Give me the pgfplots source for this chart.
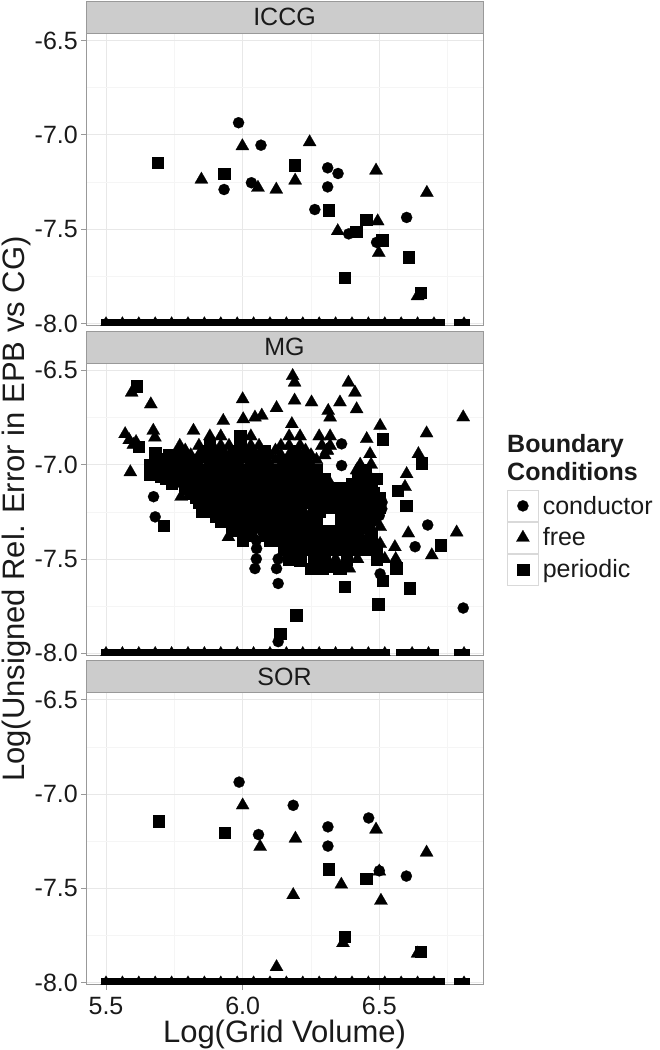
\documentclass[border=0pt]{standalone}
\usepackage{pgfplots}
\usepackage{pgfplotstable}
\pgfplotsset{compat=1.18}
\usepackage{fontspec}
\setmainfont{Liberation Sans}
\definecolor{stripfill}{HTML}{CCCCCC}
\definecolor{frame}{HTML}{999999}
\definecolor{txt}{HTML}{1A1A1A}
\newcommand{\fs}[1]{\fontsize{#1}{#1}\selectfont}
% points sitting on the floor value -8 (ICCG and SOR)
\pgfplotstableread[row sep=\\]{x y\\5.50 -8\\5.52 -8\\5.54 -8\\5.56 -8\\5.58 -8\\5.60 -8\\5.62 -8\\5.64 -8\\5.66 -8\\5.68 -8\\5.70 -8\\5.72 -8\\5.74 -8\\5.76 -8\\5.78 -8\\5.80 -8\\5.82 -8\\5.84 -8\\5.86 -8\\5.88 -8\\5.90 -8\\5.92 -8\\5.94 -8\\5.96 -8\\5.98 -8\\6.00 -8\\6.02 -8\\6.04 -8\\6.06 -8\\6.08 -8\\6.10 -8\\6.12 -8\\6.14 -8\\6.16 -8\\6.18 -8\\6.20 -8\\6.22 -8\\6.24 -8\\6.26 -8\\6.28 -8\\6.30 -8\\6.32 -8\\6.34 -8\\6.36 -8\\6.38 -8\\6.40 -8\\6.42 -8\\6.44 -8\\6.46 -8\\6.48 -8\\6.50 -8\\6.52 -8\\6.54 -8\\6.56 -8\\6.58 -8\\6.60 -8\\6.62 -8\\6.64 -8\\6.66 -8\\6.68 -8\\6.70 -8\\6.72 -8\\6.79 -8\\6.81 -8\\}\floorA
% points sitting on the floor value -8 (MG)
\pgfplotstableread[row sep=\\]{x y\\5.50 -8\\5.52 -8\\5.54 -8\\5.56 -8\\5.58 -8\\5.60 -8\\5.62 -8\\5.64 -8\\5.66 -8\\5.68 -8\\5.70 -8\\5.72 -8\\5.74 -8\\5.76 -8\\5.78 -8\\5.80 -8\\5.82 -8\\5.84 -8\\5.86 -8\\5.88 -8\\5.90 -8\\5.92 -8\\5.94 -8\\5.96 -8\\5.98 -8\\6.00 -8\\6.02 -8\\6.04 -8\\6.06 -8\\6.08 -8\\6.10 -8\\6.12 -8\\6.14 -8\\6.16 -8\\6.18 -8\\6.20 -8\\6.22 -8\\6.24 -8\\6.26 -8\\6.28 -8\\6.30 -8\\6.32 -8\\6.34 -8\\6.36 -8\\6.38 -8\\6.40 -8\\6.42 -8\\6.44 -8\\6.46 -8\\6.48 -8\\6.50 -8\\6.52 -8\\6.58 -8\\6.60 -8\\6.62 -8\\6.64 -8\\6.66 -8\\6.68 -8\\6.70 -8\\6.79 -8\\6.81 -8\\}\floorB
\pgfplotsset{
  facet/.style={
    scale only axis, width=397pt, height=292pt,
    xmin=5.4268, xmax=6.8794, ymin=-8.01, ymax=-6.4626,
    clip marker paths=true,
    axis line style={frame, line width=0.9pt},
    xtick={5.5,6,6.5}, minor xtick={5.75,6.25,6.75},
    xticklabels={5.5,6.0,6.5},
    ytick={-8,-7.5,-7,-6.5}, minor ytick={-7.75,-7.25,-6.75},
    yticklabels={-8.0,-7.5,-7.0,-6.5},
    grid=both,
    major grid style={draw=black!9, line width=0.6pt},
    minor grid style={draw=black!4, line width=0.5pt},
    tick align=outside, xtick pos=bottom, ytick pos=left,
    major tick length=5pt, minor tick length=0pt,
    tick style={frame, line width=0.9pt},
    ticklabel style={font=\fs{25}, text=txt},
    yticklabel style={inner xsep=3pt},
    xticklabel style={inner ysep=7pt},
    anchor=south west,
  },
  keybox/.style={legend image code/.code={%
      \draw[draw=black!15, fill=white, line width=0.8pt] (0pt,-15.5pt) rectangle (31pt,15.5pt);
      \draw[only marks] plot coordinates {(15.5pt,0pt)};}},
  mk/.style={mark options={fill=black, draw=black, line width=0.2pt}},
  cond/.style={only marks, mark=*, mark size=5.6pt, mk, keybox},
  free/.style={only marks, mark=triangle*, mark size=7.6pt, mk, keybox},
  peri/.style={only marks, mark=square*, mark size=5.7pt, mk, keybox},
  floorsq/.style={only marks, mark=square*, mark size=4.6pt, mk, forget plot},
  floortri/.style={only marks, mark=triangle*, mark size=7pt, mk, forget plot, each nth point=3},
}
\begin{document}
\begin{tikzpicture}
\useasboundingbox (0,0) rectangle (659pt,1050pt);

% ---------------- ICCG ----------------
\begin{axis}[facet, name=iccg, at={(86pt,724.6pt)}, xmajorticks=false]
\addplot[cond] coordinates {(5.932,-7.29) (5.985,-6.936) (6.067,-7.055) (6.032,-7.254) (6.311,-7.175) (6.349,-7.205) (6.311,-7.276) (6.264,-7.396) (6.388,-7.525) (6.6,-7.438) (6.49,-7.57)};
\addplot[free] coordinates {(5.849,-7.237) (5.999,-7.06) (6.056,-7.28) (6.123,-7.29) (6.192,-7.242) (6.245,-7.039) (6.348,-7.51) (6.494,-7.458) (6.488,-7.189) (6.498,-7.625) (6.674,-7.307) (6.64,-7.855)};
\addplot[peri] coordinates {(5.689,-7.148) (5.932,-7.205) (6.189,-7.161) (6.314,-7.399) (6.415,-7.514) (6.372,-7.758) (6.451,-7.449) (6.510,-7.558) (6.607,-7.648) (6.652,-7.837)};
\addplot[floorsq] table {\floorA};
\addplot[floortri] table {\floorA};
\end{axis}

% ---------------- MG ----------------
\begin{axis}[facet, name=mg, at={(86pt,394.8pt)}, xmajorticks=false,
  ylabel={Log(Unsigned Rel. Error in EPB vs CG)},
  ylabel style={at={(axis description cs:-0.1537,0.5)}, anchor=base, rotate=0, font=\fs{31}, text=txt},
  legend style={at={(1.0605,0.5658)}, anchor=north west, draw=none, fill=none,
    inner sep=0pt, outer sep=0pt, row sep=0pt, font=\fs{25}, text=txt,
    nodes={inner ysep=0pt, inner xsep=4pt}},
  legend cell align=left]
\addplot[cond] coordinates {(5.674,-7.17) (5.68,-7.277) (6.362,-6.89) (6.362,-7.005) (6.509,-7.234) (6.677,-7.32) (6.631,-7.435) (6.503,-7.579) (6.13,-7.63) (6.807,-7.76) (6.045,-7.551) (6.051,-7.445) (6.124,-7.551) (6.13,-7.938) (6.46,-7.10) (5.99,-7.10) (6.14,-7.10) (6.03,-7.15) (6.06,-7.20) (6.51,-7.20) (6.14,-7.25) (6.03,-7.30) (6.48,-7.30) (6.07,-7.35) (6.05,-7.40) (6.05,-7.50) (6.13,-7.50) (6.42,-7.05) (6.50,-7.27)};
\addlegendentry{conductor}
\addplot[free] coordinates {(5.594,-6.618) (5.664,-6.68) (5.570,-6.838) (5.585,-6.87) (5.60,-6.895) (5.61,-6.88) (5.589,-7.04) (5.673,-6.82) (5.679,-6.856) (5.68,-7.0) (5.82,-6.82) (5.775,-7.17) (6.0,-6.653) (5.929,-6.768) (6.002,-6.759) (6.045,-6.75) (6.07,-6.74) (6.124,-6.70) (6.183,-6.53) (6.19,-6.565) (6.19,-6.66) (6.252,-6.67) (6.18,-6.785) (6.313,-6.715) (6.32,-6.75) (6.356,-6.67) (6.387,-6.565) (6.411,-6.618) (6.417,-6.706) (6.503,-6.794) (6.673,-6.834) (6.807,-6.749) (6.783,-7.359) (6.643,-6.944) (6.6,-7.05) (6.594,-7.118) (6.454,-6.864) (6.466,-6.944) (6.417,-7.03) (6.252,-7.04) (5.948,-7.384) (6.557,-7.437) (6.56,-7.50) (6.692,-7.48) (6.307,-6.926) (6.503,-7.33) (6.503,-7.42) (6.606,-7.364)
 (5.88,-6.85) (5.92,-6.85) (6.03,-6.85) (6.17,-6.85) (6.21,-6.85) (6.28,-6.85) (6.32,-6.85)
 (5.77,-6.90) (5.84,-6.90) (5.92,-6.90) (5.95,-6.90) (6.03,-6.90) (6.06,-6.90) (6.14,-6.90) (6.17,-6.90) (6.21,-6.90) (6.29,-6.90) (6.32,-6.90)
 (5.79,-6.925) (5.90,-6.925) (6.01,-6.925) (6.12,-6.925) (6.23,-6.925) (6.31,-6.925)
 (5.81,-6.95) (5.84,-6.95) (5.88,-6.95) (5.95,-6.95) (6.06,-6.95) (6.10,-6.95) (6.14,-6.95) (6.17,-6.95) (6.21,-6.95) (6.25,-6.95) (6.30,-6.95)
 (5.86,-6.975) (6.01,-6.975) (6.12,-6.975) (6.27,-6.975)
 (5.77,-7.00) (5.84,-7.00) (5.92,-7.00) (5.99,-7.00) (6.10,-7.00) (6.14,-7.00) (6.21,-7.00) (6.25,-7.00) (6.43,-7.00) (6.47,-7.00)
 (5.97,-7.025)
 (5.81,-7.05) (5.88,-7.05) (5.95,-7.05) (6.03,-7.05) (6.14,-7.05) (6.17,-7.05) (6.25,-7.05) (6.28,-7.05) (6.46,-7.05)
 (5.77,-7.10) (5.92,-7.10) (6.06,-7.10) (6.17,-7.10) (6.25,-7.10) (6.32,-7.10) (6.47,-7.10)
 (5.84,-7.15) (5.95,-7.15) (6.10,-7.15) (6.21,-7.15) (6.28,-7.15) (6.40,-7.15)
 (5.88,-7.20) (5.99,-7.20) (6.17,-7.20) (6.32,-7.20) (6.44,-7.20)
 (5.92,-7.25) (6.03,-7.25) (6.25,-7.25) (6.48,-7.25)
 (6.10,-7.30) (6.40,-7.30) (5.99,-7.35) (6.21,-7.35) (6.44,-7.35)
 (6.32,-7.40) (6.45,-7.40) (6.27,-7.45) (6.38,-7.45) (6.34,-7.50) (6.42,-7.50) (6.52,-7.50) (6.39,-7.55)};
\addlegendentry{free}
\addplot[peri] coordinates {(5.612,-6.583) (5.62,-6.905) (5.68,-6.94) (5.70,-6.97) (5.67,-7.03) (5.70,-7.06) (5.711,-7.323) (5.838,-7.164) (6.07,-6.952) (6.512,-6.864) (6.655,-6.991) (6.566,-7.138) (6.598,-7.217) (6.725,-7.426) (6.561,-7.548) (6.61,-7.654) (6.374,-7.648) (6.496,-7.739) (6.195,-7.798) (6.137,-7.894) (6.512,-7.615) (6.307,-7.542) (6.259,-7.533) (6.21,-7.507) (6.173,-7.489) (6.356,-7.551) (6.47,-7.12) (6.49,-7.18) (6.50,-7.22)
 (5.99,-6.85) (5.88,-6.90) (5.99,-6.90)
 (5.86,-6.925) (5.97,-6.925) (6.08,-6.925) (6.19,-6.925)
 (5.73,-6.95) (5.77,-6.95) (5.92,-6.95) (5.99,-6.95) (6.03,-6.95)
 (5.75,-6.975) (5.79,-6.975) (5.83,-6.975) (5.90,-6.975) (5.97,-6.975) (6.045,-6.975) (6.08,-6.975) (6.155,-6.975) (6.19,-6.975) (6.23,-6.975)
 (5.66,-7.00) (5.70,-7.00) (5.74,-7.00) (5.81,-7.00) (5.88,-7.00) (5.95,-7.00) (6.03,-7.00) (6.06,-7.00) (6.17,-7.00)
 (5.72,-7.025) (5.755,-7.025) (5.79,-7.025) (5.83,-7.025) (5.86,-7.025) (5.90,-7.025) (5.935,-7.025) (6.01,-7.025) (6.045,-7.025) (6.08,-7.025) (6.12,-7.025) (6.155,-7.025) (6.19,-7.025) (6.23,-7.025) (6.27,-7.025) (6.45,-7.025)
 (5.66,-7.05) (5.73,-7.05) (5.77,-7.05) (5.84,-7.05) (5.92,-7.05) (5.99,-7.05) (6.06,-7.05) (6.10,-7.05) (6.21,-7.05)
 (5.72,-7.075) (5.755,-7.075) (5.79,-7.075) (5.83,-7.075) (5.86,-7.075) (5.90,-7.075) (5.935,-7.075) (5.97,-7.075) (6.01,-7.075) (6.045,-7.075) (6.08,-7.075) (6.12,-7.075) (6.155,-7.075) (6.19,-7.075) (6.23,-7.075) (6.27,-7.075) (6.30,-7.075) (6.42,-7.075) (6.45,-7.075) (6.49,-7.075)
 (5.74,-7.10) (5.84,-7.10) (5.88,-7.10) (5.95,-7.10) (6.03,-7.10) (6.10,-7.10) (6.21,-7.10) (6.28,-7.10) (6.40,-7.10) (6.44,-7.10)
 (5.79,-7.125) (5.83,-7.125) (5.86,-7.125) (5.90,-7.125) (5.935,-7.125) (5.97,-7.125) (6.01,-7.125) (6.045,-7.125) (6.08,-7.125) (6.12,-7.125) (6.155,-7.125) (6.19,-7.125) (6.23,-7.125) (6.27,-7.125) (6.30,-7.125) (6.34,-7.125) (6.38,-7.125) (6.42,-7.125) (6.46,-7.125)
 (5.81,-7.15) (5.88,-7.15) (5.92,-7.15) (5.99,-7.15) (6.06,-7.15) (6.14,-7.15) (6.17,-7.15) (6.25,-7.15) (6.32,-7.15) (6.36,-7.15) (6.44,-7.15) (6.48,-7.15)
 (5.83,-7.175) (5.86,-7.175) (5.90,-7.175) (5.935,-7.175) (5.97,-7.175) (6.01,-7.175) (6.045,-7.175) (6.08,-7.175) (6.12,-7.175) (6.155,-7.175) (6.19,-7.175) (6.23,-7.175) (6.27,-7.175) (6.30,-7.175) (6.34,-7.175) (6.38,-7.175) (6.42,-7.175) (6.46,-7.175) (6.50,-7.175)
 (5.84,-7.20) (5.92,-7.20) (5.95,-7.20) (6.03,-7.20) (6.10,-7.20) (6.14,-7.20) (6.21,-7.20) (6.25,-7.20) (6.28,-7.20) (6.36,-7.20) (6.40,-7.20) (6.48,-7.20)
 (5.86,-7.225) (5.90,-7.225) (5.935,-7.225) (5.97,-7.225) (6.01,-7.225) (6.045,-7.225) (6.08,-7.225) (6.12,-7.225) (6.155,-7.225) (6.27,-7.225) (6.30,-7.225) (6.34,-7.225) (6.38,-7.225) (6.42,-7.225) (6.46,-7.225) (6.50,-7.225)
 (5.85,-7.25) (5.88,-7.25) (5.95,-7.25) (6.00,-7.25) (6.06,-7.25) (6.10,-7.25) (6.17,-7.25) (6.21,-7.25) (6.28,-7.25) (6.36,-7.25) (6.40,-7.25) (6.44,-7.25)
 (5.90,-7.275) (5.935,-7.275) (5.97,-7.275) (6.01,-7.275) (6.045,-7.275) (6.08,-7.275) (6.12,-7.275) (6.155,-7.275) (6.19,-7.275) (6.27,-7.275) (6.38,-7.275) (6.42,-7.275) (6.46,-7.275)
 (5.92,-7.30) (5.96,-7.30) (5.99,-7.30) (6.06,-7.30) (6.14,-7.30) (6.17,-7.30) (6.21,-7.30) (6.25,-7.30) (6.36,-7.30) (6.44,-7.30)
 (5.97,-7.325) (6.01,-7.325) (6.045,-7.325) (6.08,-7.325) (6.12,-7.325) (6.155,-7.325) (6.19,-7.325) (6.23,-7.325) (6.27,-7.325) (6.38,-7.325) (6.42,-7.325) (6.46,-7.325)
 (5.96,-7.35) (6.03,-7.35) (6.10,-7.35) (6.14,-7.35) (6.17,-7.35) (6.25,-7.35) (6.28,-7.35) (6.32,-7.35) (6.36,-7.35) (6.40,-7.35)
 (6.01,-7.375) (6.08,-7.375) (6.12,-7.375) (6.155,-7.375) (6.19,-7.375) (6.23,-7.375) (6.27,-7.375) (6.30,-7.375) (6.34,-7.375) (6.38,-7.375) (6.42,-7.375) (6.47,-7.375)
 (6.00,-7.40) (6.10,-7.40) (6.14,-7.40) (6.19,-7.40) (6.25,-7.40) (6.28,-7.40) (6.37,-7.40) (6.41,-7.40)
 (6.16,-7.425) (6.21,-7.425) (6.25,-7.425) (6.29,-7.425) (6.33,-7.425) (6.37,-7.425) (6.40,-7.425) (6.44,-7.425) (6.48,-7.425)
 (6.15,-7.45) (6.19,-7.45) (6.23,-7.45) (6.31,-7.45) (6.35,-7.45) (6.42,-7.45) (6.45,-7.45) (6.49,-7.45)
 (6.17,-7.50) (6.21,-7.50) (6.26,-7.50) (6.30,-7.50) (6.38,-7.50) (6.49,-7.50)
 (6.25,-7.55) (6.29,-7.55) (6.35,-7.55)};
\addlegendentry{periodic}
\addplot[floorsq] table {\floorB};
\addplot[floortri] table {\floorB};
\end{axis}

% ---------------- SOR ----------------
\begin{axis}[facet, name=sor, at={(86pt,65.4pt)},
  xlabel={Log(Grid Volume)},
  xlabel style={at={(axis description cs:0.5,0)}, anchor=base, yshift=-57.4pt, font=\fs{31}, text=txt}]
\addplot[cond] coordinates {(5.987,-6.937) (6.058,-7.215) (6.185,-7.06) (6.312,-7.174) (6.312,-7.276) (6.461,-7.127) (6.5,-7.407) (6.599,-7.435)};
\addplot[free] coordinates {(6.0,-7.06) (6.064,-7.28) (6.193,-7.236) (6.185,-7.535) (6.124,-7.917) (6.361,-7.48) (6.367,-7.79) (6.488,-7.188) (6.5,-7.41) (6.506,-7.565) (6.673,-7.31) (6.64,-7.845)};
\addplot[peri] coordinates {(5.692,-7.143) (5.934,-7.206) (6.315,-7.398) (6.373,-7.755) (6.452,-7.447) (6.652,-7.835)};
\addplot[floorsq] table {\floorA};
\addplot[floortri] table {\floorA};
\end{axis}

% facet strips
\foreach \ax/\lab in {iccg/ICCG, mg/MG, sor/SOR}{
  \draw[fill=stripfill, draw=frame, line width=0.9pt] (\ax.north west) rectangle ([yshift=32pt]\ax.north east);
  \node[font=\fs{25}, text=txt, anchor=center] at ([yshift=16pt]\ax.north) {\lab};
}
% legend title
\node[anchor=base west, inner sep=0pt, font=\fs{25}\bfseries, text=txt] at (507pt,597pt) {Boundary};
\node[anchor=base west, inner sep=0pt, font=\fs{25}\bfseries, text=txt] at (507pt,569pt) {Conditions};
\end{tikzpicture}
\end{document}
